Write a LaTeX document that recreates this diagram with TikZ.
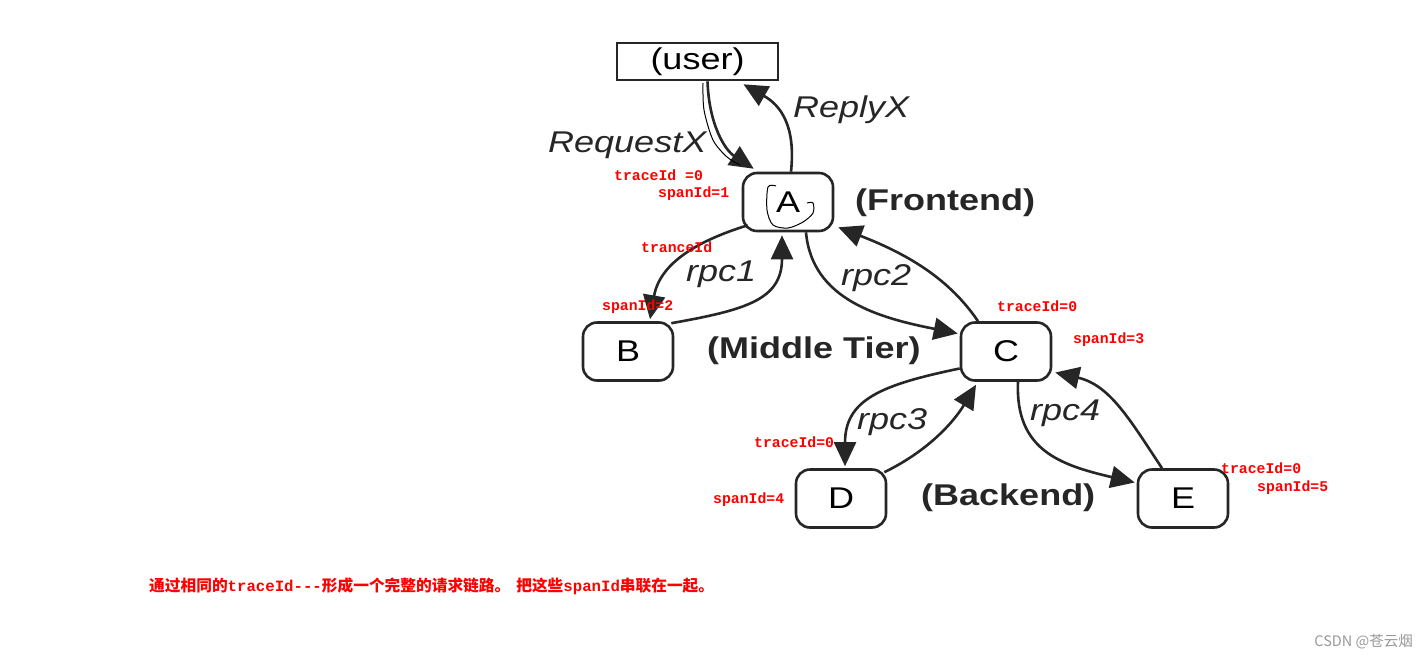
\documentclass[tikz,border=0pt]{standalone}
\usepackage{fontspec}
\setmainfont{Liberation Sans}
\newfontfamily\diag[FakeStretch=1.2]{Liberation Sans}
\newfontfamily\lblfont{Liberation Mono}
\newfontfamily\cjk{Noto Sans CJK SC}
\usetikzlibrary{arrows.meta,calc}
\begin{document}
\begin{tikzpicture}[x=1pt,y=-1pt,
  box/.style={draw=black!85, line width=2.6pt, rounded corners=14pt, minimum width=90pt, minimum height=58pt, inner sep=0pt, font=\diag\fontsize{30}{30}\selectfont},
  userbox/.style={draw=black!85, line width=2.6pt, minimum width=161pt, minimum height=37pt, inner sep=0pt, font=\diag\fontsize{30}{30}\selectfont},
  tier/.style={font=\diag\bfseries\fontsize{30}{30}\selectfont, inner sep=0pt, anchor=west, text=black!85},
  elab/.style={font=\diag\itshape\fontsize{30}{30}\selectfont, inner sep=0pt, anchor=base west, text=black!85},
  rlab/.style={text=red, font=\lblfont\bfseries\fontsize{14.8}{15}\selectfont, inner sep=0pt, anchor=west},
  conn/.style={line width=2.6pt, draw=black!85, -{Triangle[length=24pt,width=22pt]}},
  pen/.style={line width=1pt, draw=black}
]
\fill[white] (0,0) rectangle (1427,659);
\useasboundingbox (0,0) rectangle (1427,659);

\node[userbox] (user) at (697.5,61.5) {(user)};
\node[box] (A) at (788,202) {A};
\node[box] (B) at (628,351.5) {B};
\node[box] (C) at (1006,351.5) {C};
\node[box] (D) at (841,498.5) {D};
\node[box] (E) at (1183,498.5) {E};

\node[tier] (fe) at (855,203) {(Frontend)};
\node[tier] (mt) at (707,351) {(Middle Tier)};
\node[tier] (be) at (921,498) {(Backend)};

\node[elab] (rq) at (548,152) {RequestX};
\node[elab] (rp) at (793,117) {ReplyX};
\node[elab] (r1) at (686,281) {rpc1};
\node[elab] (r2) at (841,285) {rpc2};
\node[elab] (r3) at (857,429) {rpc3};
\node[elab] (r4) at (1030,420) {rpc4};

\draw[conn] ($(user.south)+(10,0)$) .. controls (709,125) and (725,150) .. ($(A.north west)+(12,-3)$);
\draw[conn] ($(A.north)+(3,0)$) .. controls (796,125) and (780,105) .. ($(user.south)+(46,3)$);
\draw[conn] ($(A.south west)+(6,-7)$) .. controls (700,240) and (660,262) .. ($(B.north)+(22,-2)$);
\draw[conn] ($(B.north east)+(-3,2)$) .. controls (745,310) and (782,300) .. ($(A.south)+(-6,3)$);
\draw[conn] ($(A.south)+(18,0)$) .. controls (812,300) and (880,318) .. ($(C.west)+(-2,-18)$);
\draw[conn] ($(C.north)+(-28,0)$) .. controls (950,280) and (910,255) .. ($(A.south east)+(4,-5)$);
\draw[conn] ($(C.west)+(0,17)$) .. controls (880,385) and (845,400) .. ($(D.north)+(4,-2)$);
\draw[conn] ($(D.north east)+(-3,4)$) .. controls (930,450) and (955,420) .. ($(C.south)+(-30,3)$);
\draw[conn] ($(C.south)+(12,0)$) .. controls (1015,450) and (1060,465) .. ($(E.west)+(-2,-16)$);
\draw[conn] ($(E.north)+(-21,0)$) .. controls (1130,420) and (1110,385) .. ($(C.east)+(3,21)$);

\draw[pen] plot[smooth] coordinates {(703,83) (704,110) (713,140) (727,157) (740,165)};
\draw[pen] plot[smooth] coordinates {(776,186) (768,187) (767,210) (773,225) (788,228) (803,222) (813,213) (813,203) (807,203)};

\node[rlab] (t1) at (614,175) {traceId =0};
\node[rlab] (s1) at (658,194) {spanId=1};
\node[rlab] (t2) at (641,247) {tranceId};
\node[rlab] (s2) at (602,307) {spanId=2};
\node[rlab] (t3) at (997,306) {traceId=0};
\node[rlab] (s3) at (1073,340) {spanId=3};
\node[rlab] (t4) at (754,442) {traceId=0};
\node[rlab] (s4) at (713,500) {spanId=4};
\node[rlab] (t5) at (1221,468) {traceId=0};
\node[rlab] (s5) at (1257,488) {spanId=5};

\node[anchor=west, text=red, inner sep=0pt, font=\bfseries\fontsize{15.7}{16}\selectfont] (cap) at (149,586)
  {{\cjk 通过相同的}{\lblfont traceId---}{\cjk 形成一个完整的请求链路。\hspace{6pt}把这些}{\lblfont spanId}{\cjk 串联在一起。}};

\node[anchor=east, text=black!40, inner sep=0pt, font=\cjk\fontsize{14.5}{14.5}\selectfont] (wm) at (1413,642) {CSDN @苍云烟};
\end{tikzpicture}
\end{document}
